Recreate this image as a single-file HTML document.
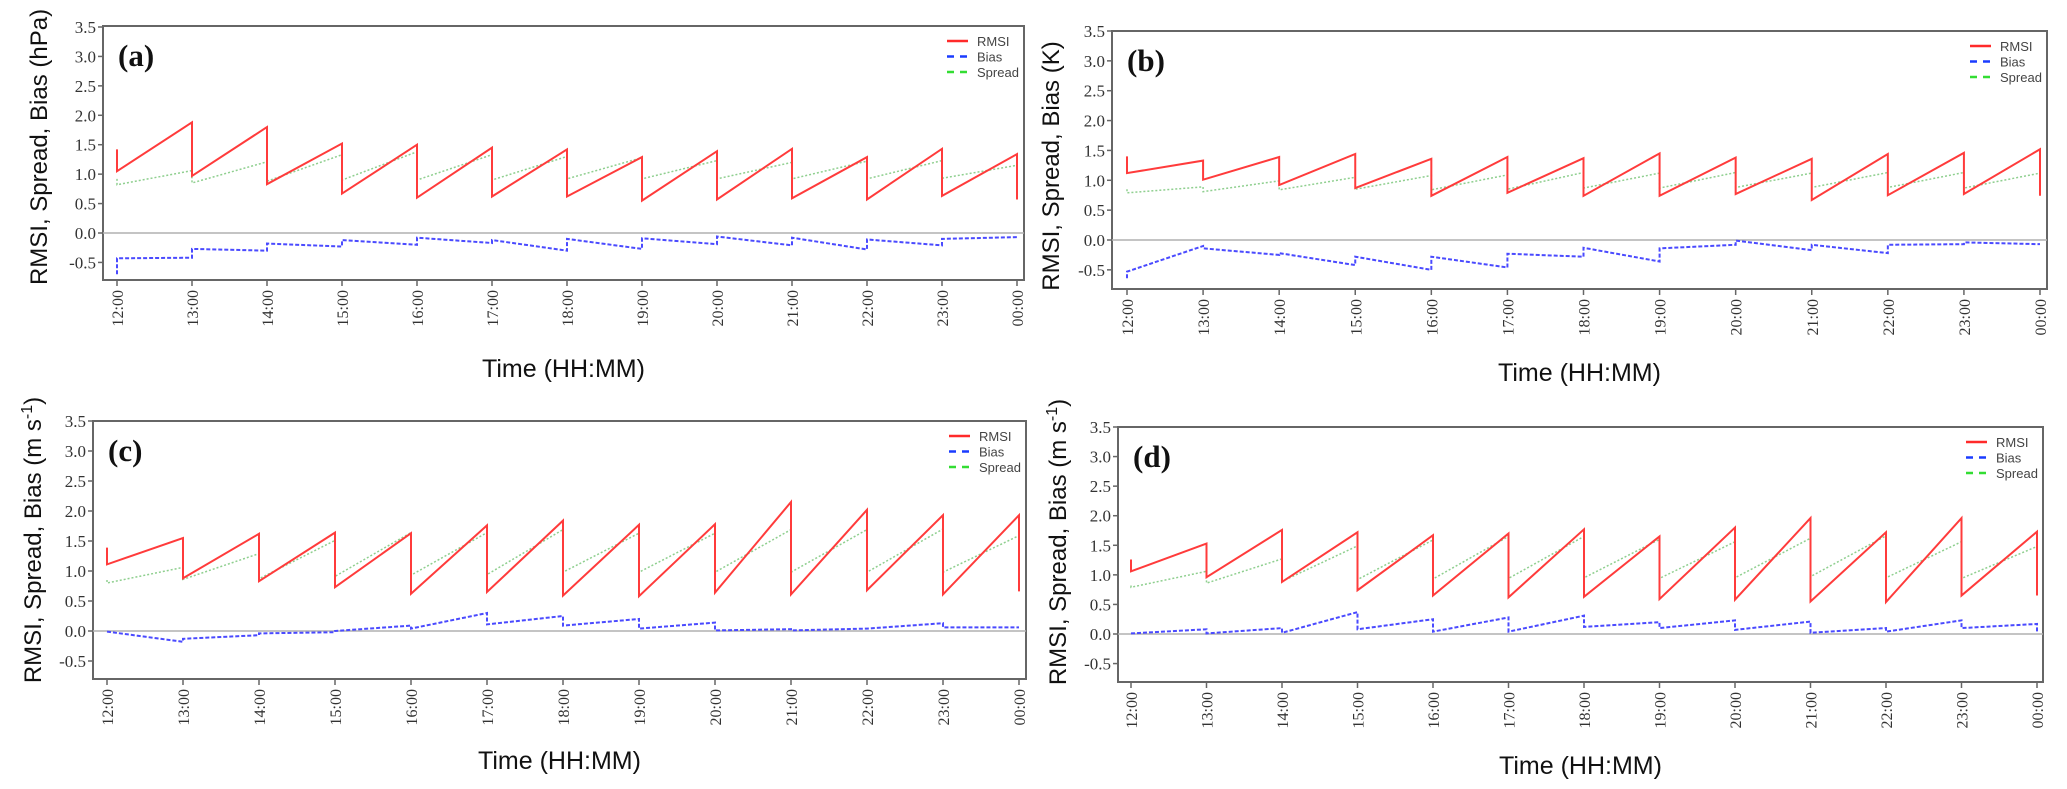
<!DOCTYPE html>
<html><head><meta charset="utf-8"><style>
html,body{margin:0;padding:0;background:#fff;}
svg{display:block;}
</style></head><body>
<svg id="fig" width="2067" height="789" viewBox="0 0 2067 789" xmlns="http://www.w3.org/2000/svg"></svg>
<script>
// ---- shared axis data ----
const hourLabels = ["12:00","13:00","14:00","15:00","16:00","17:00","18:00","19:00","20:00","21:00","22:00","23:00","00:00"];
const yTicks = [3.5,3.0,2.5,2.0,1.5,1.0,0.5,0.0,-0.5];

// ---- panel (a) ----
const aRmsiInit = [1.42];
const aRmsiStart = [1.05,0.97,0.83,0.67,0.60,0.62,0.62,0.55,0.57,0.59,0.57,0.63];
const aRmsiEnd = [1.88,1.80,1.52,1.50,1.45,1.42,1.29,1.39,1.43,1.29,1.43,1.34];
const aRmsiFinal = [0.57];
const aSpreadInit = [0.92];
const aSpreadStart = [0.82,0.85,0.88,0.90,0.90,0.90,0.92,0.92,0.92,0.92,0.92,0.93];
const aSpreadEnd = [1.06,1.21,1.33,1.38,1.33,1.30,1.28,1.23,1.20,1.22,1.23,1.15];
const aSpreadFinal = [1.00];
const aBiasInit = [-0.70];
const aBiasStart = [-0.43,-0.27,-0.18,-0.12,-0.08,-0.12,-0.10,-0.09,-0.06,-0.08,-0.11,-0.10];
const aBiasEnd = [-0.42,-0.30,-0.23,-0.20,-0.17,-0.30,-0.27,-0.19,-0.21,-0.28,-0.21,-0.07];
const aBiasFinal = [-0.07];

// ---- panel (b) ----
const bRmsiInit = [1.40];
const bRmsiStart = [1.12,1.01,0.92,0.87,0.74,0.79,0.74,0.74,0.77,0.67,0.75,0.77];
const bRmsiEnd = [1.33,1.39,1.44,1.36,1.39,1.37,1.45,1.38,1.36,1.44,1.46,1.52];
const bRmsiFinal = [0.74];
const bSpreadInit = [0.85];
const bSpreadStart = [0.79,0.81,0.84,0.85,0.84,0.85,0.87,0.87,0.88,0.88,0.88,0.87];
const bSpreadEnd = [0.89,0.99,1.05,1.08,1.09,1.13,1.12,1.13,1.12,1.13,1.13,1.12];
const bSpreadFinal = [0.89];
const bBiasInit = [-0.64];
const bBiasStart = [-0.53,-0.14,-0.22,-0.28,-0.28,-0.23,-0.13,-0.14,-0.01,-0.08,-0.08,-0.04];
const bBiasEnd = [-0.10,-0.25,-0.42,-0.50,-0.46,-0.28,-0.36,-0.08,-0.17,-0.22,-0.07,-0.07];
const bBiasFinal = [-0.07];

// ---- panel (c) ----
const cRmsiInit = [1.39];
const cRmsiStart = [1.11,0.88,0.83,0.73,0.62,0.65,0.59,0.58,0.64,0.61,0.68,0.61];
const cRmsiEnd = [1.55,1.62,1.64,1.63,1.76,1.84,1.77,1.78,2.15,2.02,1.93,1.93];
const cRmsiFinal = [0.66];
const cSpreadInit = [0.85];
const cSpreadStart = [0.80,0.86,0.87,0.91,0.93,0.94,0.98,0.98,0.98,0.98,0.98,0.98];
const cSpreadEnd = [1.06,1.29,1.51,1.64,1.64,1.69,1.63,1.63,1.69,1.69,1.70,1.59];
const cSpreadFinal = [0.98];
const cBiasInit = [-0.01];
const cBiasStart = [-0.01,-0.13,-0.04,0.00,0.04,0.11,0.09,0.04,0.01,0.01,0.04,0.06];
const cBiasEnd = [-0.18,-0.07,-0.02,0.09,0.30,0.25,0.20,0.14,0.03,0.04,0.13,0.06];
const cBiasFinal = [0.06];

// ---- panel (d) ----
const dRmsiInit = [1.26];
const dRmsiStart = [1.06,0.96,0.88,0.74,0.65,0.62,0.63,0.59,0.58,0.55,0.54,0.65];
const dRmsiEnd = [1.53,1.76,1.72,1.67,1.70,1.77,1.65,1.80,1.96,1.72,1.96,1.73];
const dRmsiFinal = [0.65];
const dSpreadInit = [0.82];
const dSpreadStart = [0.79,0.86,0.89,0.92,0.93,0.94,0.95,0.94,0.95,0.97,0.95,0.94];
const dSpreadEnd = [1.06,1.27,1.49,1.59,1.65,1.65,1.60,1.56,1.62,1.66,1.56,1.48];
const dSpreadFinal = [0.94];
const dBiasInit = [0.01];
const dBiasStart = [0.01,0.01,0.02,0.08,0.04,0.04,0.12,0.10,0.07,0.02,0.04,0.10];
const dBiasEnd = [0.08,0.10,0.37,0.25,0.28,0.31,0.20,0.23,0.21,0.10,0.23,0.17];
const dBiasFinal = [0.02];

const NS = "http://www.w3.org/2000/svg";
const svg = document.getElementById("fig");
function mk(tag, attrs, parent){
  const e = document.createElementNS(NS, tag);
  for (const k in attrs) e.setAttribute(k, attrs[k]);
  (parent||svg).appendChild(e);
  return e;
}

const panels = [
  {key:"a", unit:"hPa", sup:false, box:[103,26,1024,280], x0:117, x1:1017, yTop:27, yZero:233, ylabX:38, ylabY:147, titleY:368,
   rmsi:[aRmsiInit,aRmsiStart,aRmsiEnd,aRmsiFinal], spread:[aSpreadInit,aSpreadStart,aSpreadEnd,aSpreadFinal], bias:[aBiasInit,aBiasStart,aBiasEnd,aBiasFinal]},
  {key:"b", unit:"K", sup:false, box:[1112,31,2047,289], x0:1127, x1:2040, yTop:31, yZero:240, ylabX:1050, ylabY:166, titleY:372,
   rmsi:[bRmsiInit,bRmsiStart,bRmsiEnd,bRmsiFinal], spread:[bSpreadInit,bSpreadStart,bSpreadEnd,bSpreadFinal], bias:[bBiasInit,bBiasStart,bBiasEnd,bBiasFinal]},
  {key:"c", unit:"m s", sup:true, box:[93,421,1026,679], x0:107, x1:1019, yTop:421, yZero:631, ylabX:32, ylabY:540, titleY:760,
   rmsi:[cRmsiInit,cRmsiStart,cRmsiEnd,cRmsiFinal], spread:[cSpreadInit,cSpreadStart,cSpreadEnd,cSpreadFinal], bias:[cBiasInit,cBiasStart,cBiasEnd,cBiasFinal]},
  {key:"d", unit:"m s", sup:true, box:[1118,427,2043,682], x0:1131, x1:2037, yTop:427, yZero:634, ylabX:1057, ylabY:542, titleY:765,
   rmsi:[dRmsiInit,dRmsiStart,dRmsiEnd,dRmsiFinal], spread:[dSpreadInit,dSpreadStart,dSpreadEnd,dSpreadFinal], bias:[dBiasInit,dBiasStart,dBiasEnd,dBiasFinal]}
];

function seriesPath(arrs, X, Y){
  const [init, st, en, fin] = arrs;
  let d = "M" + X(0) + "," + Y(init[0]);
  for (let i = 0; i < st.length; i++){
    d += " L" + X(i) + "," + Y(st[i]);
    d += " L" + X(i+1) + "," + Y(en[i]);
  }
  d += " L" + X(st.length) + "," + Y(fin[0]);
  return d;
}

panels.forEach(p => {
  const g = mk("g", {});
  
  
  const [bx0, by0, bx1, by1] = p.box;
  const X = h => p.x0 + (p.x1 - p.x0) * h / 12;
  const unitPx = (p.yZero - p.yTop) / 3.5;
  const Y = v => p.yZero - v * unitPx;

  const frame = mk("rect", {x:bx0, y:by0, width:bx1-bx0, height:by1-by0, fill:"#fff", stroke:"#666", "stroke-width":2}, g);
  
  

  const zl = mk("line", {x1:bx0, x2:bx1, y1:Y(0), y2:Y(0), stroke:"#b0b0b0", "stroke-width":1.5}, g);
  
  

  yTicks.forEach(v => {
    const t = mk("line", {x1:bx0-5, x2:bx0, y1:Y(v), y2:Y(v), stroke:"#666", "stroke-width":1.5}, g);
    
    
    const tl = mk("text", {x:bx0-7, y:Y(v)+6, "text-anchor":"end", "font-family":"Liberation Serif, serif", "font-size":17, fill:"#333"}, g);
    tl.textContent = v.toFixed(1);
    
    
  });

  hourLabels.forEach((lab, i) => {
    const t = mk("line", {x1:X(i), x2:X(i), y1:by1, y2:by1+6, stroke:"#666", "stroke-width":1.5}, g);
    
    
    const tl = mk("text", {x:0, y:0, "text-anchor":"end", "font-family":"Liberation Serif, serif", "font-size":16, fill:"#333",
      transform:"translate(" + (X(i)+6) + "," + (by1+10) + ") rotate(-90)"}, g);
    tl.textContent = lab;
    
    
  });

  const sp = mk("path", {d:seriesPath(p.spread, X, Y), fill:"none", stroke:"#8fcf8f", "stroke-width":1.5, "stroke-dasharray":"2,2"}, g);
  
  
  const rm = mk("path", {d:seriesPath(p.rmsi, X, Y), fill:"none", stroke:"#ff3b3b", "stroke-width":2}, g);
  
  
  const bi = mk("path", {d:seriesPath(p.bias, X, Y), fill:"none", stroke:"#4a4aff", "stroke-width":2, "stroke-dasharray":"4,2"}, g);
  
  

  const pl = mk("text", {x:bx0+15, y:by0+40, "font-family":"Liberation Serif, serif", "font-size":31, "font-weight":"bold", fill:"#111"}, g);
  pl.textContent = "(" + p.key + ")";
  
  

  const lg = mk("g", {}, g);
  
  
  const legItems = [["RMSI","#ff2a2a",""],["Bias","#1a3cff","7,6"],["Spread","#33dd33","7,6"]];
  legItems.forEach((it, k) => {
    const yy = by0 + 15 + k*15.5;
    const ln = mk("line", {x1:bx1-77, x2:bx1-56, y1:yy, y2:yy, stroke:it[1], "stroke-width":2.5, "stroke-dasharray":it[2]||"none"}, lg);
    
    
    const tx = mk("text", {x:bx1-47, y:yy+5, "font-family":"Liberation Sans, sans-serif", "font-size":13, fill:"#444"}, lg);
    tx.textContent = it[0];
    
    
  });

  const yt = mk("text", {x:0, y:0, "text-anchor":"middle", "font-family":"Liberation Sans, sans-serif", "font-size":24, fill:"#111",
    transform:"translate(" + (p.ylabX+9) + "," + p.ylabY + ") rotate(-90)"}, g);
  
  
  if (p.sup){
    yt.appendChild(document.createTextNode("RMSI, Spread, Bias (m s"));
    const ts = mk("tspan", {dy:-9, "font-size":16}, yt);
    ts.textContent = "-1";
    const ts2 = mk("tspan", {dy:9}, yt);
    ts2.textContent = ")";
  } else {
    yt.textContent = "RMSI, Spread, Bias (" + p.unit + ")";
  }

  const xt = mk("text", {x:(bx0+bx1)/2, y:p.titleY+9, "text-anchor":"middle", "font-family":"Liberation Sans, sans-serif", "font-size":25, fill:"#111"}, g);
  xt.textContent = "Time (HH:MM)";
  
  
});
</script>
</body></html>
